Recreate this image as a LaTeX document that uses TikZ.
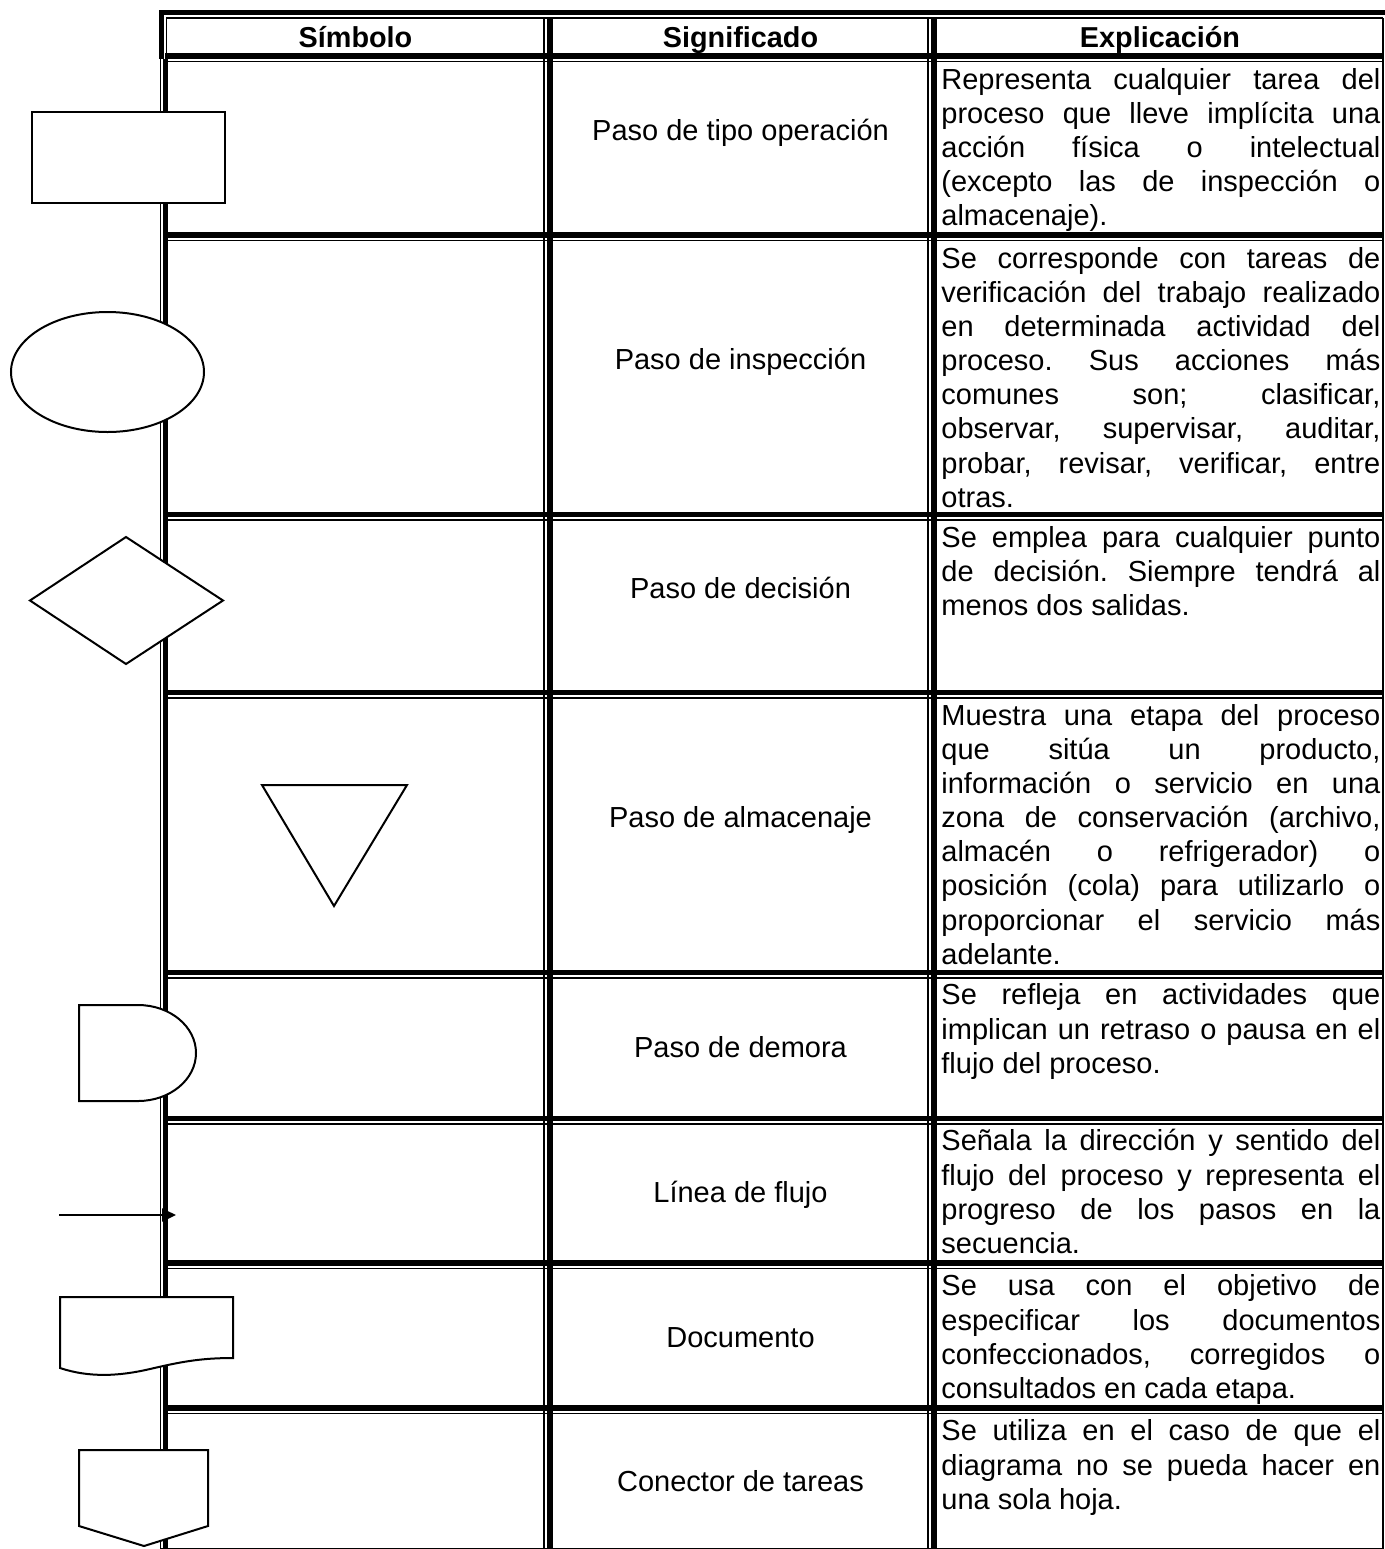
\documentclass[tikz,border=0pt]{standalone}
\usepackage{fontspec}
\setmainfont{Liberation Sans}
\usetikzlibrary{arrows.meta}
% one justified line of the explanation column
\newcommand\jline[1]{\makebox[219.5pt][s]{#1}}
\newcommand\firststrut{\rule{0pt}{13pt}}
\frenchspacing

\begin{document}
\begin{tikzpicture}[x=0.5pt,y=-0.5pt,
  thickrule/.style={line width=2.6pt},
  thinrule/.style={line width=0.8pt},
  sym/.style={draw, line width=1pt, fill=white, line join=miter},
  meaning/.style={font=\fontsize{14.5}{17.05}\selectfont, inner sep=0pt, anchor=base},
  headtxt/.style={font=\bfseries\fontsize{14.4}{17.05}\selectfont, inner sep=0pt, anchor=base},
  expl/.style={font=\fontsize{14.5}{17.05}\selectfont, inner sep=0pt, anchor=north west, align=left},
]
\useasboundingbox (0,0) rectangle (1385,1549);

% ---------- table rules ----------
% top border
\draw[thickrule] (159,12.5) -- (1385,12.5);
\draw[thinrule] (166,18) -- (1383,18);
% left border (header, then body)
\draw[thickrule] (161.5,10) -- (161.5,59);
\draw[thinrule] (166.5,18) -- (166.5,59);
\draw[thinrule] (160.5,59) -- (160.5,1549);
\draw[thickrule] (165.5,59) -- (165.5,1549);
% column separators
\draw[thinrule] (544,18) -- (544,1549);
\draw[thickrule] (550,18) -- (550,1549);
\draw[thinrule] (928,18) -- (928,1549);
\draw[thickrule] (934,18) -- (934,1549);
% right border
\draw[thinrule] (1383,18) -- (1383,1549);
% row separators: thick rule with a thin rule just below
\foreach \yy in {56,235,514.5,692.5,972.5,1118.5,1263,1408}{
  \draw[thickrule] (165,\yy) -- (1383,\yy);
  \draw[thinrule] (166,\yy+5.5) -- (1383,\yy+5.5);
}
\draw[thinrule] (160,1548.5) -- (1383,1548.5);

% ---------- header ----------
\node[headtxt] (h1) at (355.5,47) {Símbolo};
\node[headtxt] (h2) at (740.5,47) {Significado};
\node[headtxt] (h3) at (1160,47) {Explicación};

% ---------- meanings ----------
\node[meaning] (m1) at (740.5,140.5) {Paso de tipo operación};
\node[meaning] (m2) at (740.5,369.5) {Paso de inspección};
\node[meaning] (m3) at (740.5,598) {Paso de decisión};
\node[meaning] (m4) at (740.5,827) {Paso de almacenaje};
\node[meaning] (m5) at (740.5,1057) {Paso de demora};
\node[meaning] (m6) at (740.5,1202) {Línea de flujo};
\node[meaning] (m7) at (740.5,1347) {Documento};
\node[meaning] (m8) at (740.5,1491) {Conector de tareas};

% ---------- explanations ----------
\node[expl] (e1) at (941,63) {\firststrut\jline{Representa cualquier tarea del}\\
\jline{proceso que lleve implícita una}\\
\jline{acción física o intelectual}\\
\jline{(excepto las de inspección o}\\
almacenaje).};
\node[expl] (e2) at (941,242) {\firststrut\jline{Se corresponde con tareas de}\\
\jline{verificación del trabajo realizado}\\
\jline{en determinada actividad del}\\
\jline{proceso. Sus acciones más}\\
\jline{comunes son; clasificar,}\\
\jline{observar, supervisar, auditar,}\\
\jline{probar, revisar, verificar, entre}\\
otras.};
\node[expl] (e3) at (941,521) {\firststrut\jline{Se emplea para cualquier punto}\\
\jline{de decisión. Siempre tendrá al}\\
menos dos salidas.};
\node[expl] (e4) at (941,699) {\firststrut\jline{Muestra una etapa del proceso}\\
\jline{que sitúa un producto,}\\
\jline{información o servicio en una}\\
\jline{zona de conservación (archivo,}\\
\jline{almacén o refrigerador) o}\\
\jline{posición (cola) para utilizarlo o}\\
\jline{proporcionar el servicio más}\\
adelante.};
\node[expl] (e5) at (941,978.5) {\firststrut\jline{Se refleja en actividades que}\\
\jline{implican un retraso o pausa en el}\\
flujo del proceso.};
\node[expl] (e6) at (941,1124.5) {\firststrut\jline{Señala la dirección y sentido del}\\
\jline{flujo del proceso y representa el}\\
\jline{progreso de los pasos en la}\\
secuencia.};
\node[expl] (e7) at (941,1269.5) {\firststrut\jline{Se usa con el objetivo de}\\
\jline{especificar los documentos}\\
\jline{confeccionados, corregidos o}\\
consultados en cada etapa.};
\node[expl] (e8) at (941,1414.5) {\firststrut\jline{Se utiliza en el caso de que el}\\
\jline{diagrama no se pueda hacer en}\\
una sola hoja.};

% ---------- symbols ----------
% operation
\draw[sym] (32,112) rectangle (225,203);
% inspection
\draw[sym] (107.5,372) ellipse [x radius=48.25pt, y radius=30pt];
% decision
\draw[sym] (30,600.5) -- (126,537) -- (223,600.5) -- (126,664) -- cycle;
% storage
\draw[sym] (262,785) -- (407,785) -- (334,906) -- cycle;
% delay
\draw[sym] (79,1005) -- (138,1005) arc[start angle=90, end angle=-90, x radius=29pt, y radius=24pt] -- (79,1101) -- cycle;
% flow line
\coordinate (fs) at (59,1215);
\coordinate (fe) at (176,1215);
\draw[line width=1pt, -{Triangle[length=7pt,width=6.5pt]}] (fs) -- (fe);
% document
\draw[sym] (60,1297) -- (233,1297) -- (233,1358)
  .. controls (200,1358) and (180,1362) .. (150,1369)
  .. controls (120,1376) and (90,1378) .. (60,1368) -- cycle;
% off-page connector
\draw[sym] (79,1450) -- (208,1450) -- (208,1526) -- (144,1546) -- (79,1526) -- cycle;
\end{tikzpicture}
\end{document}
